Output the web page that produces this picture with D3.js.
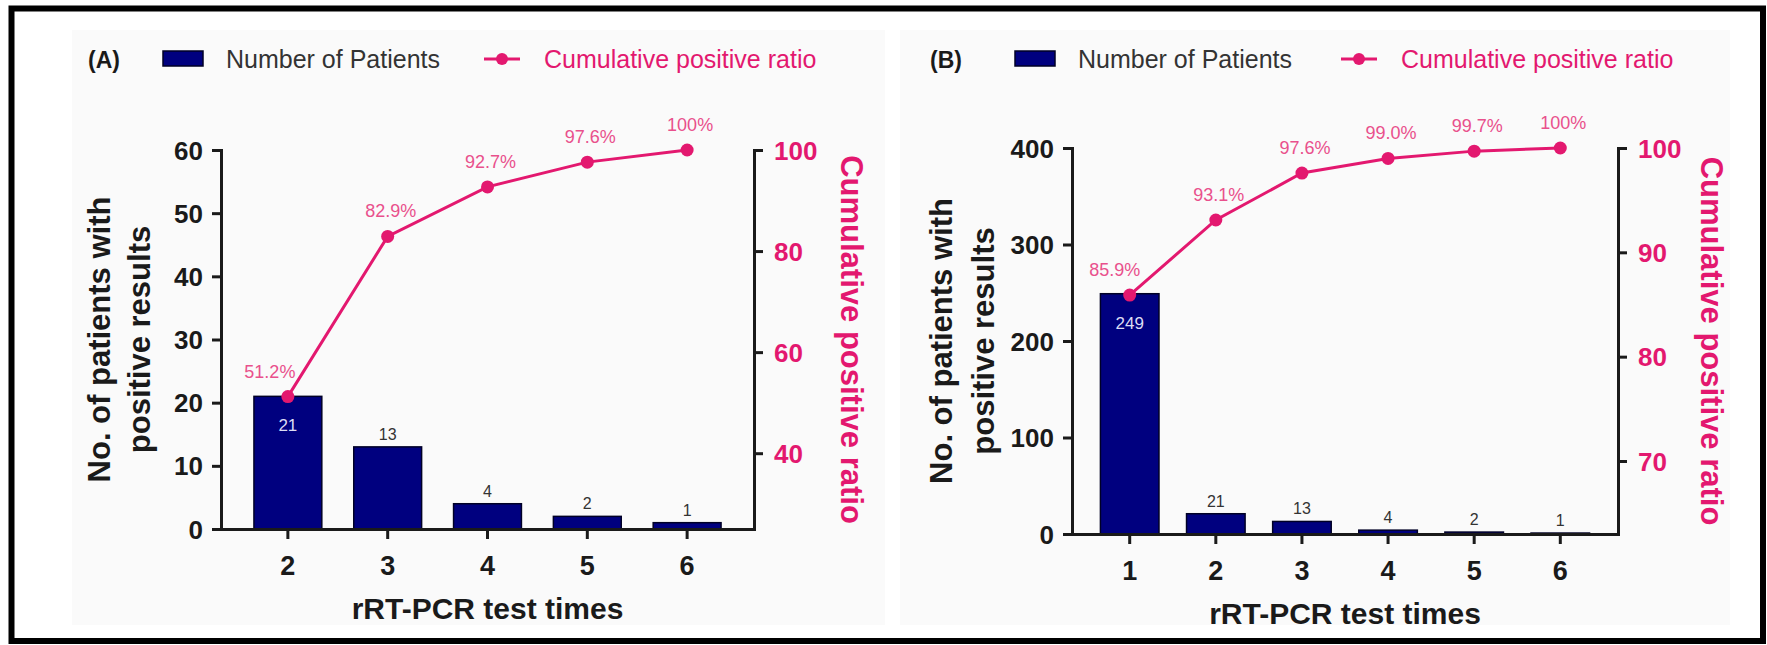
<!DOCTYPE html>
<html>
<head>
<meta charset="utf-8">
<script src="https://cdn.jsdelivr.net/npm/d3@7"></script>
<style>
  html, body { margin: 0; padding: 0; background: #ffffff; }
  svg { display: block; }
  text { font-family: "Liberation Sans", Arial, Helvetica, sans-serif; }
</style>
</head>
<body>
<svg id="chart" width="1767" height="645"></svg>
<script>
// ---------------- data ----------------
const catsA = ["2", "3", "4", "5", "6"];
const patientsA = [21, 13, 4, 2, 1];
const ratioA = [51.2, 82.9, 92.7, 97.6, 100];
const ratioLabelsA = ["51.2%", "82.9%", "92.7%", "97.6%", "100%"];
const leftTicksA = [0, 10, 20, 30, 40, 50, 60];
const rightTicksA = [40, 60, 80, 100];

const catsB = ["1", "2", "3", "4", "5", "6"];
const patientsB = [249, 21, 13, 4, 2, 1];
const ratioB = [85.9, 93.1, 97.6, 99.0, 99.7, 100];
const ratioLabelsB = ["85.9%", "93.1%", "97.6%", "99.0%", "99.7%", "100%"];
const leftTicksB = [0, 100, 200, 300, 400];
const rightTicksB = [70, 80, 90, 100];

const legendLabels = ["Number of Patients", "Cumulative positive ratio"];
const xTitle = "rRT-PCR test times";
const yTitleLines = ["No. of patients with", "positive results"];
const y2Title = "Cumulative positive ratio";

// ---------------- styles ----------------
const NAVY = "#00007f";
const PINK = "#e3186f";
const PINK_LABEL = "#e9508c";
const INK = "#1a1a1a";

const svg = d3.select("#chart");

// outer frame
svg.append("rect").attr("x", 11.5).attr("y", 8.5).attr("width", 1751.5).attr("height", 632.5)
  .attr("fill", "#ffffff").attr("stroke", "#000").attr("stroke-width", 6);

function drawPanel(cfg) {
  const g = svg.append("g");
  // faint panel background
  g.append("rect").attr("x", cfg.bg[0]).attr("y", 30).attr("width", cfg.bg[1] - cfg.bg[0]).attr("height", 595)
    .attr("fill", "#fafafa");

  const x = d3.scaleBand().domain(cfg.cats).range([cfg.x0, cfg.x1]).paddingInner(0.32).paddingOuter(0.33);
  const yL = d3.scaleLinear().domain(cfg.leftDomain).range([cfg.yb, cfg.yt]);
  const yR = d3.scaleLinear().domain(cfg.rightDomain).range([cfg.yb, cfg.yt]);

  // bars
  g.selectAll("rect.bar").data(cfg.patients).join("rect").attr("class", "bar")
    .attr("x", (d, i) => x(cfg.cats[i]))
    .attr("width", x.bandwidth())
    .attr("y", d => yL(d))
    .attr("height", d => cfg.yb - yL(d))
    .attr("fill", NAVY).attr("stroke", "#000026").attr("stroke-width", 1.5);

  // bar value labels
  g.selectAll("text.val").data(cfg.patients).join("text").attr("class", "val")
    .attr("x", (d, i) => x(cfg.cats[i]) + x.bandwidth() / 2)
    .attr("y", (d, i) => i === cfg.insideIndex ? yL(d) + 35 : yL(d) - 7)
    .attr("text-anchor", "middle")
    .attr("font-size", (d, i) => i === cfg.insideIndex ? 17 : 16)
    .attr("fill", (d, i) => i === cfg.insideIndex ? "#dcdcf4" : "#333")
    .text(d => d);

  // left axis
  const axL = g.append("g").attr("transform", `translate(${cfg.x0},0)`)
    .call(d3.axisLeft(yL).tickValues(cfg.leftTicks).tickSize(9).tickSizeOuter(0).tickPadding(9));
  // right axis
  const axR = g.append("g").attr("transform", `translate(${cfg.x1},0)`)
    .call(d3.axisRight(yR).tickValues(cfg.rightTicks).tickSize(9).tickSizeOuter(0).tickPadding(11));
  // bottom axis
  const axB = g.append("g").attr("transform", `translate(0,${cfg.yb})`)
    .call(d3.axisBottom(x).tickSize(10).tickSizeOuter(0));

  [axL, axR, axB].forEach(a => {
    a.select(".domain").attr("stroke", INK).attr("stroke-width", 3).attr("stroke-linecap", "square");
    a.selectAll(".tick line").attr("stroke", INK).attr("stroke-width", 3);
    a.selectAll("text").attr("font-family", "Liberation Sans, Arial, sans-serif").attr("font-weight", "bold");
  });
  axL.selectAll("text").attr("font-size", 26).attr("fill", INK).attr("dy", "0.35em");
  axR.selectAll("text").attr("font-size", 26).attr("fill", PINK).attr("dy", "0.35em");
  axB.selectAll("text").attr("font-size", 27).attr("fill", INK).attr("y", 46).attr("dy", null);

  // cumulative line
  const cx = (d, i) => x(cfg.cats[i]) + x.bandwidth() / 2;
  const line = d3.line().x((d, i) => cx(d, i)).y(d => yR(d));
  g.append("path").datum(cfg.ratio).attr("d", line)
    .attr("fill", "none").attr("stroke", PINK).attr("stroke-width", 3);
  g.selectAll("circle.pt").data(cfg.ratio).join("circle").attr("class", "pt")
    .attr("cx", cx).attr("cy", d => yR(d)).attr("r", 6.5).attr("fill", PINK);
  g.selectAll("text.pct").data(cfg.ratio).join("text").attr("class", "pct")
    .attr("x", (d, i) => cx(d, i) + (i === 0 ? cfg.firstDx : 3))
    .attr("y", d => yR(d) - 19)
    .attr("text-anchor", "middle").attr("font-size", 18).attr("fill", PINK_LABEL)
    .text((d, i) => cfg.ratioLabels[i]);

  // titles
  const ymid = (cfg.yt + cfg.yb) / 2;
  yTitleLines.forEach((t, k) => {
    g.append("text").attr("transform", `translate(${cfg.yTitleX[k]},${ymid}) rotate(-90)`)
      .attr("text-anchor", "middle").attr("font-size", 31).attr("font-weight", "bold").attr("fill", INK)
      .text(t);
  });
  g.append("text").attr("transform", `translate(${cfg.y2TitleX},${ymid}) rotate(90)`)
    .attr("text-anchor", "middle").attr("font-size", 31).attr("font-weight", "bold").attr("fill", PINK)
    .text(y2Title);
  g.append("text").attr("x", (cfg.x0 + cfg.x1) / 2).attr("y", cfg.yb + 90)
    .attr("text-anchor", "middle").attr("font-size", 30).attr("font-weight", "bold").attr("fill", INK)
    .text(xTitle);

  // legend
  const L = cfg.legend;
  g.append("text").attr("x", L.tag).attr("y", 68).attr("text-anchor", "middle")
    .attr("font-size", 23).attr("font-weight", "bold").attr("fill", INK).text(cfg.tag);
  g.append("rect").attr("x", L.rect).attr("y", 51).attr("width", 40).attr("height", 15)
    .attr("fill", NAVY).attr("stroke", "#000026").attr("stroke-width", 1.5);
  g.append("text").attr("x", L.rect + 63).attr("y", 68).attr("font-size", 25).attr("fill", "#333")
    .text(legendLabels[0]);
  g.append("line").attr("x1", L.mark).attr("x2", L.mark + 36).attr("y1", 59).attr("y2", 59)
    .attr("stroke", PINK).attr("stroke-width", 3);
  g.append("circle").attr("cx", L.mark + 18).attr("cy", 59).attr("r", 6).attr("fill", PINK);
  g.append("text").attr("x", L.mark + 60).attr("y", 68).attr("font-size", 25).attr("fill", PINK)
    .text(legendLabels[1]);
}

drawPanel({
  tag: "(A)", cats: catsA, patients: patientsA, ratio: ratioA, ratioLabels: ratioLabelsA,
  leftTicks: leftTicksA, rightTicks: rightTicksA,
  leftDomain: [0, 60], rightDomain: [25, 100],
  x0: 221, x1: 754, yt: 150, yb: 529,
  insideIndex: 0, firstDx: -18,
  yTitleX: [110, 150], y2TitleX: 841,
  bg: [72, 885],
  legend: { tag: 104, rect: 163, mark: 484 }
});

drawPanel({
  tag: "(B)", cats: catsB, patients: patientsB, ratio: ratioB, ratioLabels: ratioLabelsB,
  leftTicks: leftTicksB, rightTicks: rightTicksB,
  leftDomain: [0, 400], rightDomain: [63, 100],
  x0: 1072, x1: 1618, yt: 148, yb: 534,
  insideIndex: 0, firstDx: -15,
  yTitleX: [952, 994], y2TitleX: 1701,
  bg: [900, 1730],
  legend: { tag: 946, rect: 1015, mark: 1341 }
});
</script>
</body>
</html>
